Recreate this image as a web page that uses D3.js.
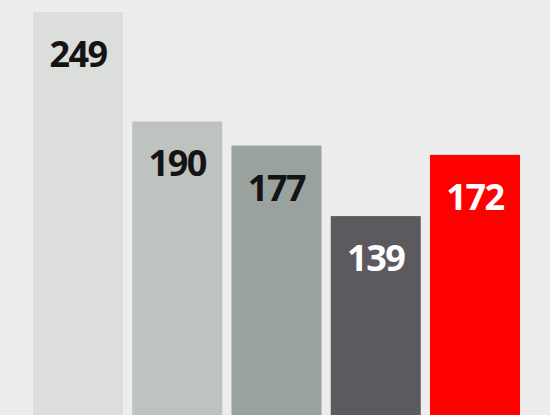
<!DOCTYPE html>
<html>
<head>
<meta charset="utf-8">
<script src="https://cdn.jsdelivr.net/npm/d3@7"></script>
<style>
  html, body { margin: 0; padding: 0; background: #ededed; overflow: hidden; }
  svg { display: block; }
</style>
</head>
<body>
<div id="chart"></div>
<script>
const categories = ["A", "B", "C", "D", "E"];
const values = [249, 190, 177, 139, 172];
const colors = ["#dcdedb", "#bfc3bf", "#9aa29e", "#5c595f", "#ff0000"];
const labelColors = ["#141414", "#141414", "#141414", "#ffffff", "#ffffff"];

const W = 550, H = 415;
const svg = d3.select("#chart").append("svg")
  .attr("width", W).attr("height", H);

svg.append("rect").attr("width", W).attr("height", H).attr("fill", "#ededed");

const x = d3.scaleBand()
  .domain(categories)
  .range([33, 520])
  .paddingInner(0.093)
  .paddingOuter(0);

const y = d3.scaleLinear()
  .domain([0, 249])
  .range([474, 12]);

const data = categories.map((c, i) => ({ c, v: values[i], col: colors[i], lc: labelColors[i] }));

svg.selectAll("rect.bar").data(data).join("rect")
  .attr("class", "bar")
  .attr("x", d => x(d.c))
  .attr("y", d => y(d.v))
  .attr("width", x.bandwidth())
  .attr("height", d => y(0) - y(d.v))
  .attr("fill", d => d.col);

svg.selectAll("text.lbl").data(data).join("text")
  .attr("class", "lbl")
  .attr("x", d => x(d.c) + x.bandwidth() / 2)
  .attr("y", d => y(d.v) + 55)
  .attr("text-anchor", "middle")
  .attr("font-family", "'Open Sans', sans-serif")
  .attr("font-weight", 700)
  .attr("font-size", 36)
  .attr("letter-spacing", -1.5)
  .attr("fill", d => d.lc)
  .text(d => d.v);
</script>
</body>
</html>
